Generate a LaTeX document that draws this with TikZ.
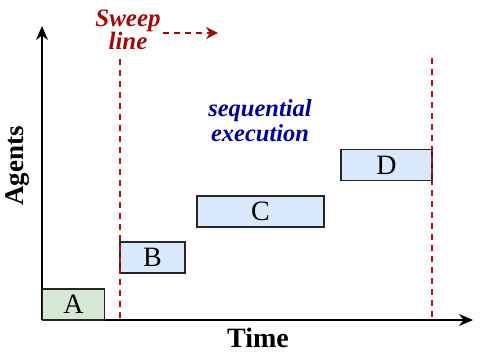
\documentclass[tikz,border=0pt]{standalone}
\usepackage{fontspec}
\setmainfont{Liberation Serif}
\usetikzlibrary{arrows.meta}
\definecolor{sweepred}{RGB}{160,10,10}
\definecolor{linered}{RGB}{180,20,20}
\definecolor{seqblue}{RGB}{0,0,150}
\definecolor{taskblue}{RGB}{218,232,252}
\definecolor{taskgreen}{RGB}{213,232,212}
\tikzset{
  task/.style={draw=black!85, line width=1.4pt, rectangle, minimum height=31pt, inner sep=0pt, fill=taskblue, font=\fontsize{28}{28}\selectfont},
  axis/.style={line width=1.5pt, -{Stealth[length=14pt,width=12pt]}},
  sweep/.style={linered, line width=2pt, dash pattern=on 5.5pt off 5.5pt},
  lbl/.style={font=\fontsize{28}{28}\selectfont\bfseries},
}
\begin{document}
\begin{tikzpicture}[x=1pt,y=-1pt]
\useasboundingbox (0,0) rectangle (489,359);
% axes
\coordinate (O) at (42,320);
\coordinate (ytop) at (42,26);
\coordinate (xend) at (473,320);
\draw[axis] (O) -- (ytop);
\draw[axis] (O) -- (xend);
% tasks
\node[task, fill=taskgreen, minimum width=62pt] (A) at (73.5,304.5) {A};
\node[task, minimum width=65pt] (B) at (152.5,257.5) {B};
\node[task, minimum width=127pt] (C) at (260.5,211.5) {C};
\node[task, minimum width=91pt] (D) at (386.5,165) {D};
% sweep lines
\coordinate (s1t) at (120,59);
\coordinate (s1b) at (120,320);
\coordinate (s2t) at (432,58);
\coordinate (s2b) at (432,320);
\draw[sweep] (s1t) -- (s1b);
\draw[sweep] (s2t) -- (s2b);
% labels
\node[align=center, text=sweepred, font=\fontsize{25}{23}\selectfont\bfseries\itshape, inner sep=0pt] (sw) at (128,30) {Sweep\\line};
\coordinate (a1) at (163,33);
\coordinate (a2) at (218,33);
\draw[sweepred, line width=2pt, dash pattern=on 6pt off 5pt, -{Stealth[length=12pt,width=12pt]}] (a1) -- (a2);
\node[align=center, text=seqblue, font=\fontsize{24.5}{25}\selectfont\bfseries\itshape, inner sep=0pt] (seq) at (260,121) {sequential\\execution};
\node[lbl, font=\fontsize{27}{27}\selectfont\bfseries, rotate=90, inner sep=0pt] (ag) at (18,166) {Agents};
\node[lbl, anchor=base, inner sep=0pt] (ti) at (258,347) {Time};
\end{tikzpicture}
\end{document}
